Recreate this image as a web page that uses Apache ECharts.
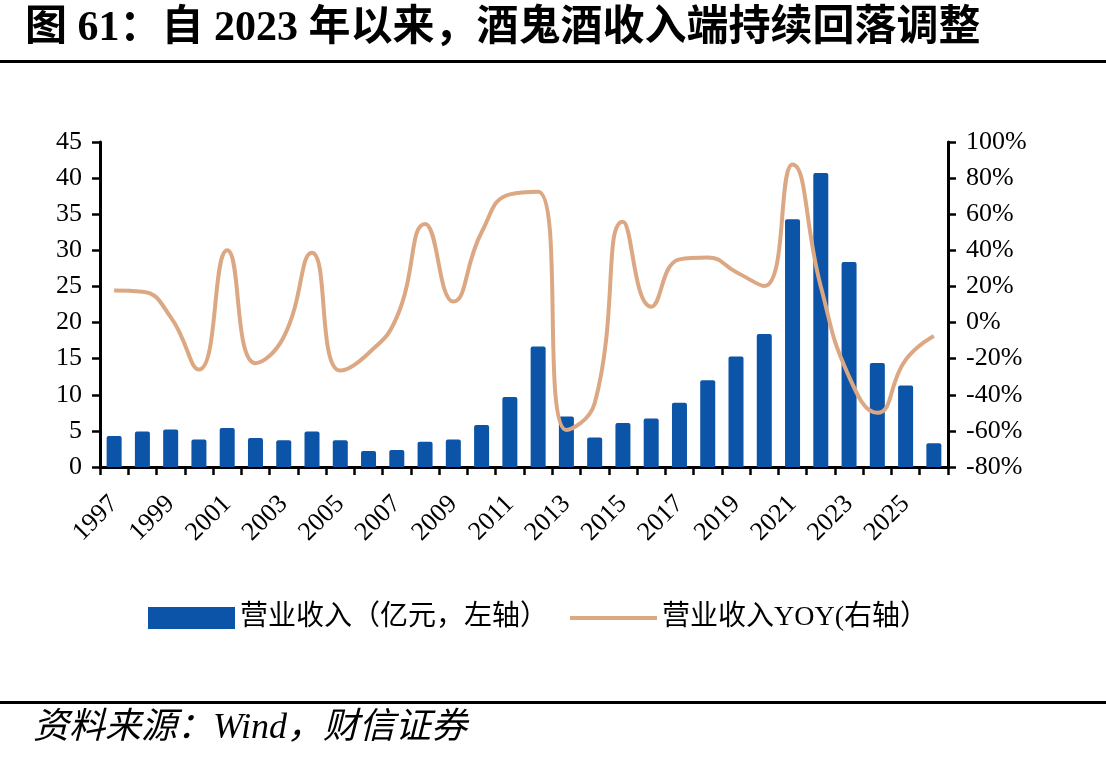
<!DOCTYPE html>
<html>
<head>
<meta charset="utf-8">
<script src="https://cdn.jsdelivr.net/npm/echarts@6/dist/echarts.min.js"></script>
<style>
    html, body {margin: 0; padding: 0; background: #fff;}
    #graph {width: 1106px; height: 761px;}
</style>
</head>
<body>
<div id="graph"></div>
<script>
// 年份
var years = ['1997', '1998', '1999', '2000', '2001', '2002', '2003', '2004', '2005', '2006',
    '2007', '2008', '2009', '2010', '2011', '2012', '2013', '2014', '2015', '2016',
    '2017', '2018', '2019', '2020', '2021', '2022', '2023', '2024', '2025', '2026'];
// 营业收入（亿元）
var revenue = [4.3, 4.9, 5.2, 3.8, 5.4, 4.0, 3.7, 4.9, 3.7, 2.2,
    2.35, 3.5, 3.8, 5.8, 9.7, 16.7, 7.0, 4.1, 6.1, 6.7,
    8.9, 12.0, 15.3, 18.4, 34.3, 40.7, 28.4, 14.4, 11.3, 3.3];
// 营业收入同比（%）
var yoy = [17.7, 17, 3, -26, 40, -22.5, -8, 38.7, -26.6, -17,
    3, 54.6, 11.6, 50, 71, 72.5, -59.5, -44.7, 55.9, 8.8,
    35, 36, 28, 20.3, 87.6, 20, -30, -50, -20.7, -7.4];

var titleText = '图 61：自 2023 年以来，酒鬼酒收入端持续回落调整';
var sourceText = '资料来源：Wind，财信证券';

var serif = '"Liberation Serif", "Noto Sans CJK SC", serif';
var axisStyle = {color: '#000', width: 3};
var lineColor = '#DCA883';

var chart = echarts.init(document.getElementById('graph'));
var option = {
    backgroundColor: '#fff',
    animation: false,
    title: [{
        text: titleText,
        left: 20, top: 3,
        textStyle: {fontFamily: serif, fontWeight: 'bold', fontSize: 42, color: '#000'}
    }, {
        text: sourceText,
        left: 28, top: 706,
        textStyle: {fontFamily: serif, fontStyle: 'italic', fontWeight: 'normal', fontSize: 36, color: '#000'}
    }],
    graphic: [
        {type: 'rect', shape: {x: 0, y: 60, width: 1106, height: 3}, style: {fill: '#000'}},
        {type: 'rect', shape: {x: 0, y: 701, width: 1106, height: 3}, style: {fill: '#000'}}
    ],
    legend: {
        left: 143, top: 599,
        itemWidth: 87, itemHeight: 22, itemGap: 20,
        textStyle: {fontFamily: serif, fontSize: 28, color: '#000'},
        data: [
            {name: '营业收入（亿元，左轴）', icon: 'rect'},
            {name: '营业收入YOY(右轴）', itemStyle: {opacity: 0}, lineStyle: {width: 4, color: lineColor}}
        ]
    },
    grid: {left: 100, right: 158, top: 142, bottom: 294},
    xAxis: {
        type: 'category',
        data: years,
        boundaryGap: true,
        axisLine: {lineStyle: axisStyle},
        axisTick: {show: true, interval: 0, length: 8, lineStyle: {width: 2.5, color: '#000'}},
        axisLabel: {interval: 1, rotate: 45, margin: 33, fontFamily: serif, fontSize: 26, color: '#000'}
    },
    yAxis: [{
        type: 'value', min: 0, max: 45, interval: 5,
        axisLine: {show: true, lineStyle: axisStyle},
        axisTick: {show: true, length: 8, lineStyle: {width: 2.5, color: '#000'}},
        splitLine: {show: false},
        axisLabel: {margin: 18, fontFamily: serif, fontSize: 26, color: '#000'}
    }, {
        type: 'value', min: -80, max: 100, interval: 20,
        position: 'right',
        axisLine: {show: true, lineStyle: axisStyle},
        axisTick: {show: true, length: 8, lineStyle: {width: 2.5, color: '#000'}},
        splitLine: {show: false},
        axisLabel: {margin: 18, fontFamily: serif, fontSize: 26, color: '#000', formatter: '{value}%'}
    }],
    series: [{
        name: '营业收入（亿元，左轴）',
        type: 'bar',
        data: revenue,
        barWidth: 15,
        itemStyle: {color: '#0B54A7', borderRadius: [2, 2, 0, 0]}
    }, {
        name: '营业收入YOY(右轴）',
        type: 'line',
        yAxisIndex: 1,
        data: yoy,
        smooth: 0.5,
        symbol: 'none',
        itemStyle: {color: lineColor},
        lineStyle: {color: lineColor, width: 4}
    }]
};
chart.setOption(option);
</script>
</body>
</html>
